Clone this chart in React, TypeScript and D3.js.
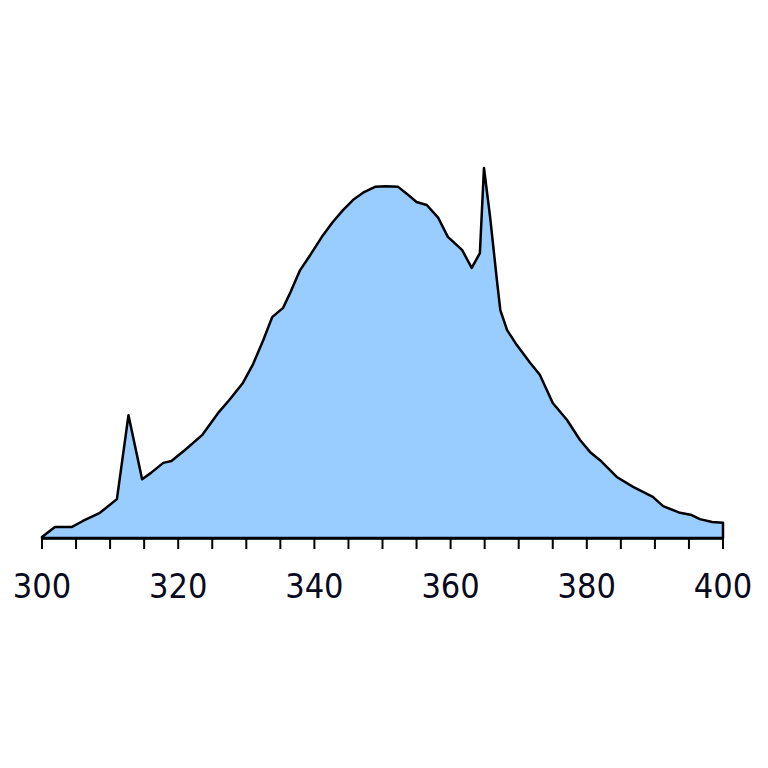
import React from "react";
import * as d3 from "d3";

// Wavelength (nm) and relative intensity
const wavelengths = [
  300.0, 301.9, 304.4, 306.0, 308.5, 311.0, 312.7, 314.7, 316.0, 317.8,
  319.0, 321.0, 323.5, 326.0, 327.5, 329.5, 331.0, 332.5, 333.8, 335.4,
  336.5, 337.9, 339.4, 341.1, 342.7, 344.2, 345.7, 347.3, 348.9, 350.5,
  352.3, 353.6, 355.0, 356.5, 358.2, 359.6, 360.6, 361.7, 363.1, 364.3,
  364.9, 365.8, 366.8, 367.3, 368.3, 369.7, 371.7, 373.1, 375.0, 377.1,
  379.0, 380.5, 381.9, 384.4, 386.8, 389.7, 391.2, 393.7, 395.4, 396.6,
  398.4, 400.0,
];
const intensities = [
  0.3, 3.0, 3.0, 4.6, 6.8, 10.5, 33.2, 15.9, 17.6, 20.3,
  20.8, 23.8, 27.8, 34.1, 37.3, 41.9, 47.0, 53.5, 59.7, 62.2,
  66.5, 72.4, 76.5, 81.4, 85.4, 88.6, 91.4, 93.5, 94.9, 95.1,
  94.9, 93.0, 90.8, 90.0, 86.5, 81.4, 79.7, 77.8, 73.0, 77.0,
  100.0, 86.8, 69.7, 61.6, 56.2, 52.2, 47.3, 44.1, 36.5, 31.9,
  26.5, 23.2, 21.1, 16.5, 13.8, 11.1, 8.6, 6.8, 6.2, 5.1,
  4.3, 4.1,
];
const xDomain = [300, 400];
const tickLabels = [300, 320, 340, 360, 380, 400];
const minorTicks = d3.range(300, 401, 5);

export default function App() {
  const x = d3.scaleLinear().domain(xDomain).range([42, 723]);
  const y = d3.scaleLinear().domain([0, 100]).range([538, 168]);
  const data = wavelengths.map((w, i) => ({ w, v: intensities[i] }));
  const area = d3
    .area<{ w: number; v: number }>()
    .x((d) => x(d.w))
    .y0(y(0))
    .y1((d) => y(d.v));
  const baseY = y(0);
  return (
    <svg
      width={768}
      height={768}
      style={{ position: "fixed", left: 0, top: 0, background: "#fff" }}
    >
      <path
        d={area(data) || ""}
        fill="#99ccff"
        stroke="#000"
        strokeWidth={2.5}
        strokeLinejoin="round"
      />
      <line x1={x(300)} x2={x(400)} y1={baseY + 0.5} y2={baseY + 0.5} stroke="#000" strokeWidth={2.5} />
      {minorTicks.map((t) => (
        <line key={t} x1={x(t)} x2={x(t)} y1={baseY} y2={baseY + 11} stroke="#000" strokeWidth={2} />
      ))}
      {tickLabels.map((t) => (
        <text
          key={t}
          x={x(t)}
          y={598}
          textAnchor="middle"
          fontSize={34}
          fontWeight={500}
          fontFamily="'DejaVu Sans Condensed', 'Liberation Sans', sans-serif"
          fill="#0a0a1e"
        >
          {t}
        </text>
      ))}
    </svg>
  );
}
